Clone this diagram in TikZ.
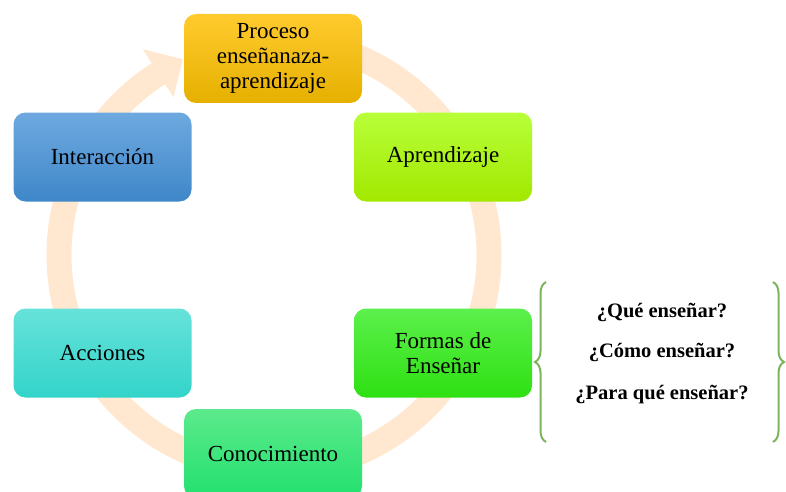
\documentclass[tikz,border=0pt]{standalone}
\usepackage{fontspec}
\setmainfont{Liberation Serif}
\usetikzlibrary{decorations.pathreplacing}
\definecolor{ringc}{HTML}{FFE8CF}
\definecolor{braceg}{HTML}{7AB55C}
\begin{document}
\begin{tikzpicture}[x=1pt,y=1pt,
  box/.style={rounded corners=12pt, minimum width=178pt, minimum height=89pt,
    align=center, inner sep=0pt, font=\fontsize{23}{25}\selectfont},
  ring/.style={draw=ringc, line width=25pt},
  qtext/.style={font=\bfseries\fontsize{20.5}{22}\selectfont, inner sep=0pt},
  bracestyle/.style={draw=braceg, line width=2pt,
    decorate, decoration={brace, amplitude=11pt}}]
\useasboundingbox (0,0) rectangle (786,491);
\coordinate (c) at (274,236);
% ring with arrow
\draw[ring] ([shift={(90:215)}]c) arc[start angle=90, end angle=-237.5, radius=215];
\fill[ringc] ([shift={(122.5:244)}]c) -- ([shift={(115:216)}]c) -- ([shift={(122.5:187)}]c) -- cycle;
% boxes
\node[box, top color={rgb,255:red,255;green,203;blue,46}, bottom color={rgb,255:red,230;green,176;blue,0}] (p) at (273,432.5) {Proceso\\enseñanaza-\\aprendizaje};
\node[box, top color={rgb,255:red,110;green,169;blue,224}, bottom color={rgb,255:red,63;green,135;blue,201}] (i) at (102.5,334) {Interacción};
\node[box, top color={rgb,255:red,184;green,255;blue,58}, bottom color={rgb,255:red,162;green,232;blue,0}] (a) at (443,334) {Aprendizaje};
\node[box, top color={rgb,255:red,92;green,240;blue,76}, bottom color={rgb,255:red,46;green,224;blue,18}] (f) at (443,138) {Formas de\\Enseñar};
\node[box, top color={rgb,255:red,102;green,226;blue,218}, bottom color={rgb,255:red,51;green,212;blue,202}] (ac) at (102.5,138) {Acciones};
\node[box, top color={rgb,255:red,92;green,234;blue,140}, bottom color={rgb,255:red,34;green,224;blue,110}] (k) at (273,37.5) {Conocimiento};
% questions
\node[qtext] (q1) at (662,179) {¿Qué enseñar?};
\node[qtext] (q2) at (662,139) {¿Cómo enseñar?};
\node[qtext] (q3) at (662,96) {¿Para qué enseñar?};
% braces
\coordinate (lb) at (546,49);
\coordinate (lt) at (546,209);
\coordinate (rt) at (773,209);
\coordinate (rb) at (773,49);
\draw[bracestyle] (lb) -- (lt);
\draw[bracestyle] (rt) -- (rb);
\end{tikzpicture}
\end{document}
